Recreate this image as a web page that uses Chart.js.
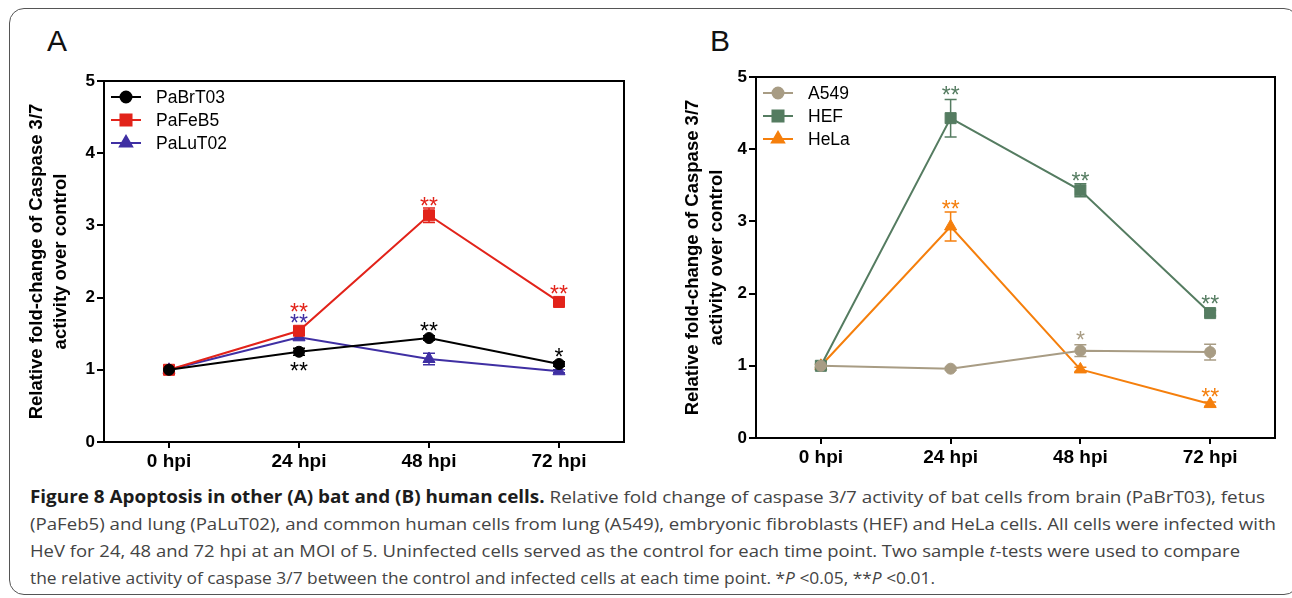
<!DOCTYPE html>
<html>
<head>
<meta charset="utf-8">
<script src="https://cdn.jsdelivr.net/npm/chart.js@4.4.0/dist/chart.umd.min.js"></script>
<style>
  body { margin: 0; background: #fff; width: 1292px; height: 598px; position: relative; overflow: hidden;
         font-family: "Liberation Sans", Arial, sans-serif; }
  #frame { position: absolute; left: 9px; top: 8px; width: 1290px; height: 587px;
           border: 1px solid #555; border-radius: 15px; box-sizing: border-box; }
  .panel { position: absolute; font-size: 30px; line-height: 30px; color: #111; }
  #boxA { position: absolute; left: 0; top: 60px; }
  #boxB { position: absolute; left: 650px; top: 60px; }
  .cap { position: absolute; left: 30px; white-space: nowrap; font-size: 17px; line-height: 20px;
         color: #444; transform-origin: 0 50%; font-family: "Open Sans", "Liberation Sans", sans-serif; }
  .cap b { color: #1c1c1c; }
</style>
</head>
<body>
<div id="frame"></div>
<div class="panel" style="left:47px; top:26px;">A</div>
<div class="panel" style="left:710px; top:26px;">B</div>
<div id="boxA"><canvas id="chartA" width="650" height="420"></canvas></div>
<div id="boxB"><canvas id="chartB" width="642" height="420"></canvas></div>

<div class="cap" style="top:487px;" data-w="1235"><b>Figure 8 Apoptosis in other (A) bat and (B) human cells.</b> Relative fold change of caspase 3/7 activity of bat cells from brain (PaBrT03), fetus</div>
<div class="cap" style="top:514px;" data-w="1246">(PaFeb5) and lung (PaLuT02), and common human cells from lung (A549), embryonic fibroblasts (HEF) and HeLa cells. All cells were infected with</div>
<div class="cap" style="top:541px;" data-w="1210">HeV for 24, 48 and 72 hpi at an MOI of 5. Uninfected cells served as the control for each time point. Two sample <i>t</i>-tests were used to compare</div>
<div class="cap" style="top:568px;" data-w="905">the relative activity of caspase 3/7 between the control and infected cells at each time point. *<i>P</i> &lt;0.05, **<i>P</i> &lt;0.01.</div>

<script>
// time points
const hours = ['0 hpi', '24 hpi', '48 hpi', '72 hpi'];
const yTitle = ['Relative fold-change of Caspase 3/7', 'activity over control'];

// (A) bat cells
const paBrT03 = [1.00, 1.25, 1.44, 1.08];
const paFeB5 = [1.00, 1.54, 3.14, 1.94];
const paLuT02 = [1.00, 1.45, 1.15, 0.98];
const paBrT03Err = [0.02, 0.05, 0.03, 0.03];
const paFeB5Err = [0.02, 0.03, 0.10, 0.03];
const paLuT02Err = [0.02, 0.03, 0.08, 0.02];
const paBrT03Sig = ['', '**', '**', '*'];
const paFeB5Sig = ['', '**', '**', '**'];
const paLuT02Sig = ['', '**', '', ''];

// (B) human cells
const a549 = [1.00, 0.96, 1.21, 1.19];
const hef = [1.00, 4.43, 3.43, 1.73];
const hela = [1.00, 2.93, 0.95, 0.47];
const a549Err = [0.02, 0.02, 0.08, 0.11];
const hefErr = [0.02, 0.26, 0.09, 0.04];
const helaErr = [0.02, 0.20, 0.03, 0.03];
const a549Sig = ['', '', '*', ''];
const hefSig = ['', '**', '**', '**'];
const helaSig = ['', '**', '', '**'];

Chart.defaults.font.family = '"Liberation Sans", Arial, sans-serif';
Chart.defaults.color = '#000';

const errorBars = {
    id: 'errorBars',
    beforeDatasetsDraw(chart) {
        const ctx = chart.ctx;
        const y = chart.scales.y;
        chart.data.datasets.forEach((ds, i) => {
            const meta = chart.getDatasetMeta(i);
            ctx.save();
            ctx.strokeStyle = ds.borderColor;
            ctx.lineWidth = 1.5;
            meta.data.forEach((pt, j) => {
                const e = ds.err[j];
                if (!e) return;
                const top = y.getPixelForValue(ds.data[j] + e);
                const bot = y.getPixelForValue(ds.data[j] - e);
                ctx.beginPath();
                ctx.moveTo(pt.x, top); ctx.lineTo(pt.x, bot);
                ctx.moveTo(pt.x - 6, top); ctx.lineTo(pt.x + 6, top);
                ctx.moveTo(pt.x - 6, bot); ctx.lineTo(pt.x + 6, bot);
                ctx.stroke();
            });
            ctx.restore();
        });
    }
};

// significance stars, offsets are pixels from the point centre
const stars = {
    id: 'stars',
    afterDatasetsDraw(chart, args, opts) {
        const ctx = chart.ctx;
        ctx.save();
        ctx.font = '23px "Liberation Sans", Arial, sans-serif';
        ctx.textAlign = 'center';
        ctx.textBaseline = 'alphabetic';
        chart.data.datasets.forEach((ds, i) => {
            const meta = chart.getDatasetMeta(i);
            ctx.fillStyle = ds.borderColor;
            meta.data.forEach((pt, j) => {
                if (!ds.sig[j]) return;
                const dy = opts.offsets[i][j];
                ctx.fillText(ds.sig[j], pt.x, pt.y + dy + 23 * 0.575);
            });
        });
        ctx.restore();
    }
};

// line + marker legend inside the plot box
const innerLegend = {
    id: 'innerLegend',
    afterDraw(chart) {
        const ctx = chart.ctx;
        const a = chart.chartArea;
        ctx.save();
        chart.data.datasets.forEach((ds, i) => {
            const y = a.top + 16 + i * 23;
            const x0 = a.left + 7;
            ctx.strokeStyle = ds.borderColor;
            ctx.fillStyle = ds.borderColor;
            ctx.lineWidth = 2;
            ctx.beginPath();
            ctx.moveTo(x0, y); ctx.lineTo(x0 + 30, y);
            ctx.stroke();
            Chart.helpers.drawPoint(ctx, {
                pointStyle: ds.pointStyle, radius: ds.pointRadius, rotation: 0, borderWidth: 1
            }, x0 + 15, y);
            ctx.fillStyle = '#000';
            ctx.font = '17.5px "Liberation Sans", Arial, sans-serif';
            ctx.textBaseline = 'middle';
            ctx.textAlign = 'left';
            ctx.fillText(ds.label, x0 + 45, y + 1);
        });
        ctx.restore();
    }
};

// top and right edges of the plot box
const boxEdges = {
    id: 'boxEdges',
    afterDraw(chart) {
        const ctx = chart.ctx;
        const a = chart.chartArea;
        ctx.save();
        ctx.strokeStyle = '#000';
        ctx.lineWidth = 2;
        ctx.beginPath();
        ctx.moveTo(a.left, a.top); ctx.lineTo(a.right, a.top); ctx.lineTo(a.right, a.bottom);
        ctx.stroke();
        ctx.restore();
    }
};

function series(label, data, err, sig, color, style, radius) {
    return {
        label: label, data: data, err: err, sig: sig,
        borderColor: color, backgroundColor: color,
        pointBackgroundColor: color, pointBorderColor: color,
        pointStyle: style, pointRadius: radius, pointBorderWidth: 1,
        borderWidth: 2, tension: 0
    };
}

function makeConfig(datasets, pad, yWidth, xHeight, titlePad, offsets) {
    return {
        type: 'line',
        data: { labels: hours, datasets: datasets },
        options: {
            responsive: false,
            animation: false,
            devicePixelRatio: 1,
            layout: { padding: pad },
            plugins: {
                legend: { display: false },
                tooltip: { enabled: false },
                stars: { offsets: offsets }
            },
            scales: {
                x: {
                    offset: true,
                    grid: { offset: false, drawOnChartArea: false, tickLength: 6, color: '#000', lineWidth: 2 },
                    border: { color: '#000', width: 2 },
                    ticks: { font: { size: 19, weight: 'bold' }, padding: 2, color: '#000' },
                    afterFit(s) { s.height = xHeight; }
                },
                y: {
                    min: 0, max: 5,
                    grid: { drawOnChartArea: false, tickLength: 7, color: '#000', lineWidth: 2 },
                    border: { color: '#000', width: 2 },
                    ticks: { stepSize: 1, font: { size: 17, weight: 'bold' }, padding: 2, color: '#000' },
                    title: {
                        display: true, text: yTitle, color: '#000',
                        font: { size: 18.5, weight: 'bold', lineHeight: 1.3 },
                        padding: { top: titlePad, bottom: 0 }
                    },
                    afterFit(s) { s.width = yWidth; }
                }
            }
        },
        plugins: [errorBars, stars, innerLegend, boxEdges]
    };
}

new Chart(document.getElementById('chartA'), makeConfig([
    series('PaBrT03', paBrT03, paBrT03Err, paBrT03Sig, '#000000', 'circle', 5.5),
    series('PaFeB5', paFeB5, paFeB5Err, paFeB5Sig, '#e2231a', 'rect', 7.8),
    series('PaLuT02', paLuT02, paLuT02Err, paLuT02Sig, '#3f2fa3', 'triangle', 7)
], { top: 21, right: 26, left: 0, bottom: 0 }, 104, 38, 25, [
    [0, 14, -12, -12],
    [0, -24, -15, -13],
    [0, -20, 0, 0]
]));

new Chart(document.getElementById('chartB'), makeConfig([
    series('A549', a549, a549Err, a549Sig, '#a89c84', 'circle', 5.5),
    series('HEF', hef, hefErr, hefSig, '#557c61', 'rect', 7.8),
    series('HeLa', hela, helaErr, helaSig, '#f57f0c', 'triangle', 7)
], { top: 17, right: 17, left: 0, bottom: 0 }, 106, 42, 31, [
    [0, 0, -16, 0],
    [0, -28, -15, -14],
    [0, -23, 0, -12]
]));

// fit caption lines to the widths they have in the figure
document.querySelectorAll('.cap').forEach(el => {
    const w = el.getBoundingClientRect().width;
    el.style.transform = 'scaleX(' + (Number(el.dataset.w) / w) + ')';
});
</script>
</body>
</html>
